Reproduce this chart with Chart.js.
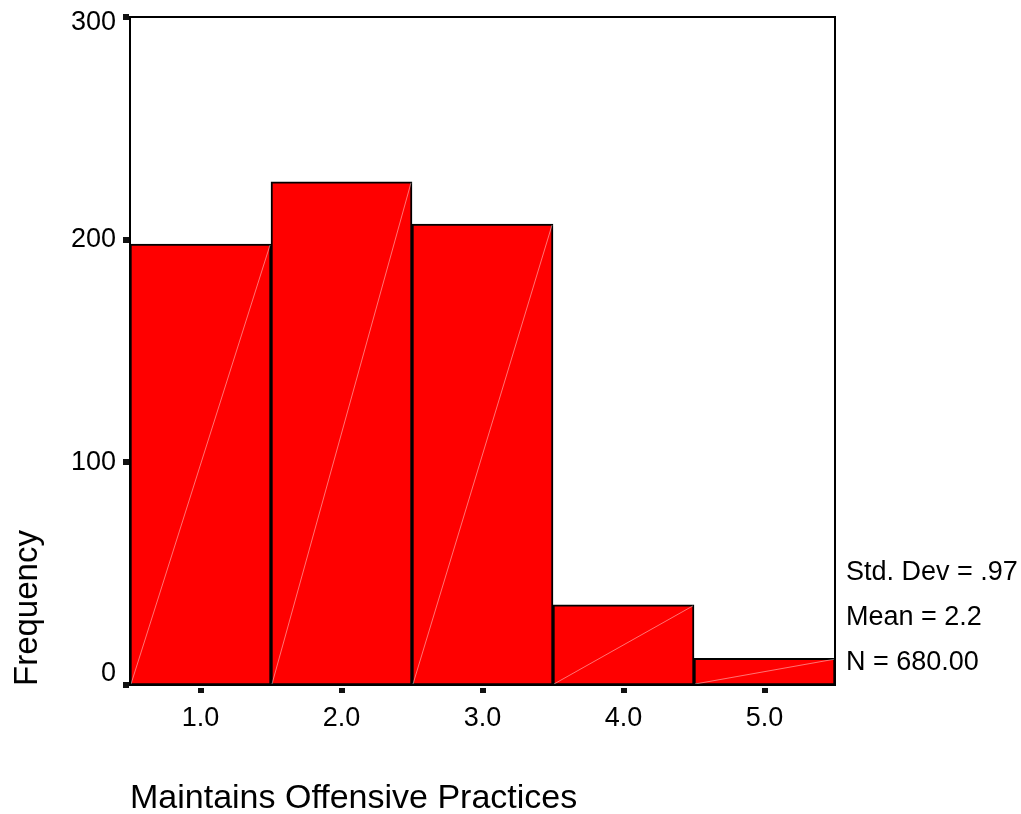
<!DOCTYPE html>
<html>
<head>
<meta charset="utf-8">
<script src="https://cdn.jsdelivr.net/npm/chart.js@4"></script>
<style>
  html, body { margin: 0; padding: 0; background: #fff; }
  #wrap { width: 1021px; height: 814px; }
</style>
</head>
<body>
<div id="wrap"><canvas id="c" width="1021" height="814"></canvas></div>
<script>
// ── data ──
var categories = ["1.0", "2.0", "3.0", "4.0", "5.0"];
var frequency  = [198, 226, 207, 36, 12];
var yTicks     = [0, 100, 200, 300];
var statsLines = ["Std. Dev = .97", "Mean = 2.2", "N = 680.00"];
var xTitle = "Maintains Offensive Practices";
var yTitle = "Frequency";

var FONT = "'Liberation Sans', Arial, Helvetica, sans-serif";

// ── frame, tick squares, y labels, diagonal hatch, titles, stats ──
var spssDecor = {
  id: "spssDecor",
  afterDatasetsDraw: function(chart) {
    var ctx = chart.ctx, a = chart.chartArea;
    var xs = chart.scales.x, ys = chart.scales.y;
    ctx.save();

    // faint diagonal in each bar
    chart.getDatasetMeta(0).data.forEach(function(bar) {
      var p = bar.getProps(["x", "y", "base", "width"], true);
      ctx.strokeStyle = "rgba(255,255,255,0.45)";
      ctx.lineWidth = 1;
      ctx.beginPath();
      ctx.moveTo(p.x - p.width / 2 + 1, p.base - 1);
      ctx.lineTo(p.x + p.width / 2 - 1, p.y + 1);
      ctx.stroke();
    });

    // outer frame
    ctx.strokeStyle = "#000";
    ctx.lineWidth = 2;
    ctx.strokeRect(a.left, a.top, a.right - a.left, a.bottom - a.top);

    // tick squares
    ctx.fillStyle = "#111";
    xs.ticks.forEach(function(t, i) {
      var x = xs.getPixelForTick(i);
      ctx.fillRect(Math.round(x) - 3, a.bottom + 3, 6, 5);
    });
    yTicks.forEach(function(v) {
      var y = ys.getPixelForValue(v);
      ctx.fillRect(a.left - 7, Math.round(y) - 3, 6, 6);
    });

    // y tick labels (SPSS pulls the end labels inside the frame)
    ctx.fillStyle = "#000";
    ctx.font = "27px " + FONT;
    ctx.textAlign = "right";
    ctx.textBaseline = "middle";
    yTicks.forEach(function(v) {
      var y = ys.getPixelForValue(v);
      y = Math.min(Math.max(y, a.top + 6), a.bottom - 11);
      ctx.fillText(String(v), a.left - 14, y);
    });

    // axis titles
    ctx.font = "34px " + FONT;
    ctx.textAlign = "left";
    ctx.textBaseline = "alphabetic";
    ctx.fillText(xTitle, a.left, a.bottom + 123);

    ctx.font = "33px " + FONT;
    ctx.save();
    ctx.translate(37, a.bottom + 1);
    ctx.rotate(-Math.PI / 2);
    ctx.fillText(yTitle, 0, 0);
    ctx.restore();

    // stats box text
    ctx.font = "27px " + FONT;
    ctx.textBaseline = "middle";
    statsLines.forEach(function(s, i) {
      ctx.fillText(s, a.right + 11, a.bottom - 112 + i * 45);
    });

    ctx.restore();
  }
};

new Chart(document.getElementById("c"), {
  type: "bar",
  data: {
    labels: categories,
    datasets: [{
      data: frequency,
      backgroundColor: "#ff0000",
      borderColor: "#000",
      borderWidth: 2,
      borderSkipped: false,
      barPercentage: 1,
      categoryPercentage: 1
    }]
  },
  options: {
    responsive: false,
    animation: false,
    devicePixelRatio: 1,
    layout: { padding: { top: 17, right: 186, bottom: 0, left: 0 } },
    plugins: { legend: { display: false }, tooltip: { enabled: false } },
    scales: {
      x: {
        grid: { display: false, drawTicks: false },
        border: { display: false },
        ticks: { color: "#000", font: { family: FONT, size: 27 }, padding: 17, maxRotation: 0 },
        afterFit: function(s) { s.height = 129; s.paddingLeft = 0; s.paddingRight = 0; }
      },
      y: {
        min: 0, max: 300,
        grid: { display: false, drawTicks: false },
        border: { display: false },
        afterBuildTicks: function(s) { s.ticks = yTicks.map(function(v) { return { value: v }; }); },
        ticks: { display: false },
        afterFit: function(s) { s.width = 130; s.paddingTop = 0; s.paddingBottom = 0; }
      }
    }
  },
  plugins: [spssDecor]
});
</script>
</body>
</html>
